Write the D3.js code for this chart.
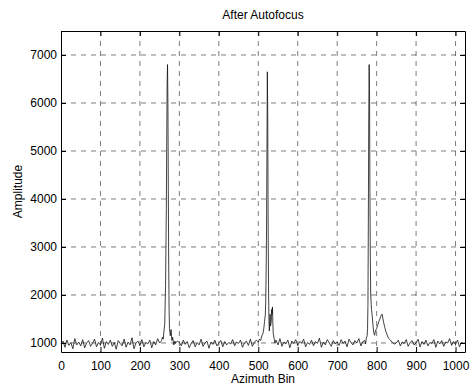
<!DOCTYPE html>
<html>
<head>
<meta charset="utf-8">
<script src="https://cdn.jsdelivr.net/npm/d3@7"></script>
<style>
  body { margin: 0; background: #fff; }
  text { font-family: "Liberation Sans", Arial, sans-serif; fill: #000; }
</style>
</head>
<body>
<div class="chart"></div>
<script>
// baseline noise, one value every 5 bins (0..1020)
var baseStep = 5;
var baseline = [
  980,1040,910,1060,950,1010,880,1090,960,1020,940,1070,900,1000,1050,930,990,1080,920,1010,
  960,1100,890,1030,970,1060,930,1010,870,1050,990,940,1080,910,1020,960,1110,880,1000,1040,
  950,1070,920,1010,980,1060,900,1030,960,1090,1000,1050,1100,1080,1000,1060,950,1020,990,1040,
  1010,940,1060,970,1030,900,990,1050,920,1010,960,1080,930,1000,1040,890,1020,970,1060,940,
  1000,1050,920,1030,960,1010,980,1070,940,1020,990,1060,910,1000,1040,950,1080,930,1010,1060,
  1040,1100,1200,1500,1400,1200,1100,1060,1000,1050,960,1090,930,1020,980,1060,900,1040,990,1070,
  950,1030,1000,1080,920,1010,970,1060,940,1030,990,1100,910,1020,960,1070,1000,930,1050,980,
  1020,950,1070,990,1040,920,1080,1010,960,1050,1000,1090,940,1030,1080,1060,1100,1200,1300,1400,
  1300,1400,1500,1600,1400,1250,1150,1100,1050,1080,1000,1060,940,1020,990,1070,930,1010,1050,960,
  1000,1080,920,1030,970,1060,940,1010,990,1070,910,1040,980,1050,930,1020,1000,1090,950,1030,
  970,1060,920,1010,990
];

// detailed samples around the three targets
var peak1Bins = [255,257,259,261,263,265,267,268,269,270,271,272,273,274,275,277,279,281,283,286,289];
var peak1Amp  = [1050,1120,1080,1250,1400,2200,3800,5200,6400,6800,6000,4200,2600,1700,1300,1150,1280,1050,1120,960,1040];

var peak2Bins = [500,503,506,509,512,514,516,518,519,520,521,522,523,524,525,526,527,528,530,531,533,534,535,536,537,538,540,542,545];
var peak2Amp  = [1020,1080,1050,1150,1200,1300,1450,1600,1900,2500,3400,5000,6650,5800,3500,2200,1500,1250,1600,1350,1450,1700,1600,1750,1400,1200,1100,1000,1060];

var peak3Bins = [770,772,774,776,777,778,779,780,781,782,783,784,785,787,789,791,793,795,797,800,803,806,809,812,814,816,818,820,823,826,830,835,840,845];
var peak3Amp  = [1050,980,1100,1150,1300,1800,3500,5600,6800,6300,4200,2800,2000,1700,1550,1350,1200,1160,1250,1300,1380,1450,1520,1580,1600,1500,1420,1350,1250,1180,1100,1060,1010,980];

var xTicks = [0,100,200,300,400,500,600,700,800,900,1000];
var yTicks = [1000,2000,3000,4000,5000,6000,7000];

var titleText = "After Autofocus";
var xLabel = "Azimuth Bin";
var yLabel = "Amplitude";

// merge baseline with detailed peak samples
var windows = [[peak1Bins, peak1Amp], [peak2Bins, peak2Amp], [peak3Bins, peak3Amp]];
var points = baseline.map(function(v, i) { return { bin: i * baseStep, amp: v }; })
  .filter(function(p) {
    return !windows.some(function(w) {
      return p.bin >= w[0][0] && p.bin <= w[0][w[0].length - 1];
    });
  });
windows.forEach(function(w) {
  w[0].forEach(function(b, i) { points.push({ bin: b, amp: w[1][i] }); });
});
points.sort(function(a, b) { return a.bin - b.bin; });

var svgWidth = 473, svgHeight = 387;
var margin = { top: 31, right: 8, bottom: 35, left: 61 };
var width = svgWidth - margin.left - margin.right;
var height = svgHeight - margin.top - margin.bottom;

var svg = d3.select(".chart").append("svg")
  .attr("width", svgWidth)
  .attr("height", svgHeight);

var chart = svg.append("g")
  .attr("transform", "translate(" + margin.left + "," + margin.top + ")");

var x = d3.scaleLinear().domain([0, 1024]).range([0, width]);
var y = d3.scaleLinear().domain([812, 7500]).range([height, 0]);

// dashed grid
chart.append("g").selectAll("line")
  .data(xTicks.filter(function(d) { return d > 0; }))
  .enter().append("line")
    .attr("x1", function(d) { return x(d); })
    .attr("x2", function(d) { return x(d); })
    .attr("y1", 0).attr("y2", height)
    .attr("stroke", "#444").attr("stroke-width", 0.7)
    .attr("stroke-dasharray", "5,5");

chart.append("g").selectAll("line")
  .data(yTicks)
  .enter().append("line")
    .attr("x1", 0).attr("x2", width)
    .attr("y1", function(d) { return y(d); })
    .attr("y2", function(d) { return y(d); })
    .attr("stroke", "#444").attr("stroke-width", 0.7)
    .attr("stroke-dasharray", "5,5");

// data line
var line = d3.line()
  .x(function(d) { return x(d.bin); })
  .y(function(d) { return y(d.amp); });

chart.append("path")
  .attr("d", line(points))
  .attr("fill", "none")
  .attr("stroke", "#111")
  .attr("stroke-width", 0.8);

// axes with inward ticks on all sides
var fmt = d3.format("d");
var xAxis = chart.append("g")
  .attr("transform", "translate(0," + height + ")")
  .call(d3.axisBottom(x).tickValues(xTicks).tickFormat(fmt).tickSize(-5).tickPadding(9).tickSizeOuter(0));
var xTop = chart.append("g")
  .call(d3.axisTop(x).tickValues(xTicks).tickSize(-5).tickFormat("").tickSizeOuter(0));
var yAxis = chart.append("g")
  .call(d3.axisLeft(y).tickValues(yTicks).tickFormat(fmt).tickSize(-5).tickPadding(4).tickSizeOuter(0));
var yRight = chart.append("g")
  .attr("transform", "translate(" + width + ",0)")
  .call(d3.axisRight(y).tickValues(yTicks).tickSize(-5).tickFormat("").tickSizeOuter(0));

[xAxis, xTop, yAxis, yRight].forEach(function(g) {
  g.selectAll("path, line").attr("stroke", "#000");
  g.selectAll("text")
    .style("font-family", "'Liberation Sans', Arial, sans-serif")
    .style("font-size", "12px")
    .attr("fill", "#000");
});

// title and labels
svg.append("text")
  .attr("x", margin.left + width / 2)
  .attr("y", 19)
  .attr("text-anchor", "middle")
  .style("font-size", "12px")
  .text(titleText);

svg.append("text")
  .attr("x", margin.left + width / 2)
  .attr("y", 383)
  .attr("text-anchor", "middle")
  .style("font-size", "12px")
  .text(xLabel);

svg.append("text")
  .attr("transform", "translate(22," + (margin.top + height / 2) + ") rotate(-90)")
  .attr("text-anchor", "middle")
  .style("font-size", "12px")
  .text(yLabel);
</script>
</body>
</html>
